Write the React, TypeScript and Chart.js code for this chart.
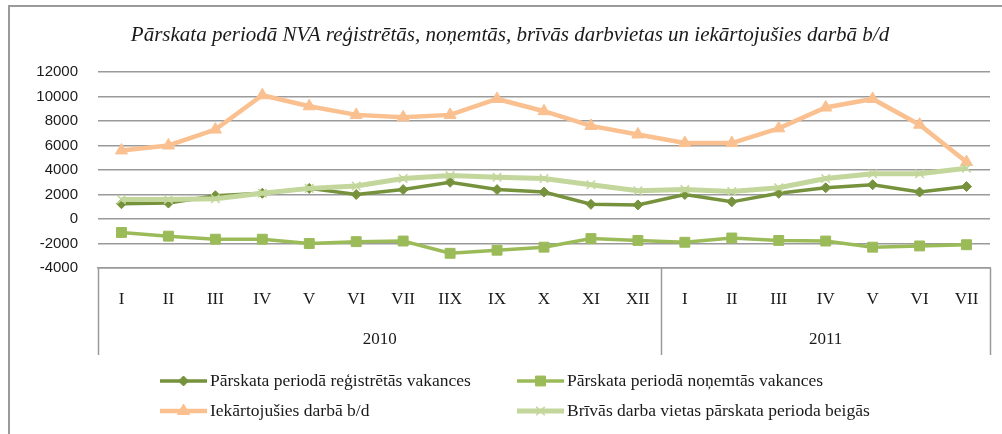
import React, { useEffect, useRef } from 'react';
import { Chart, registerables } from 'chart.js';
import { drawPoint } from 'chart.js/helpers';

Chart.register(...registerables);

const chartTitle =
  'Pārskata periodā NVA reģistrētās, noņemtās, brīvās darbvietas un iekārtojušies darbā b/d';

const months = ['I', 'II', 'III', 'IV', 'V', 'VI', 'VII', 'IIX', 'IX', 'X', 'XI', 'XII', 'I', 'II', 'III', 'IV', 'V', 'VI', 'VII'];
const years = ['2010', '2010', '2010', '2010', '2010', '2010', '2010', '2010', '2010', '2010', '2010', '2010', '2011', '2011', '2011', '2011', '2011', '2011', '2011'];

const seriesNames = [
  'Pārskata periodā reģistrētās vakances',
  'Pārskata periodā noņemtās vakances',
  'Iekārtojušies darbā b/d',
  'Brīvās darba vietas pārskata perioda beigās',
];

const registered = [1250, 1300, 1900, 2100, 2500, 2000, 2400, 3000, 2400, 2200, 1200, 1150, 2000, 1400, 2100, 2550, 2800, 2200, 2650];
const removed = [-1100, -1400, -1650, -1650, -2000, -1850, -1800, -2800, -2550, -2300, -1600, -1750, -1900, -1550, -1750, -1800, -2300, -2200, -2100];
const employed = [5600, 6000, 7300, 10100, 9200, 8500, 8300, 8500, 9800, 8800, 7600, 6900, 6200, 6200, 7400, 9100, 9800, 7700, 4650];
const vacant = [1600, 1600, 1650, 2100, 2500, 2700, 3300, 3550, 3400, 3300, 2800, 2300, 2400, 2250, 2550, 3300, 3700, 3700, 4150];

const yMin = -4000;
const yMax = 12000;
const yStep = 2000;

const W = 1002;
const H = 434;

const decorPlugin = {
  id: 'decor',
  beforeDraw(chart: any) {
    const ctx = chart.ctx;
    ctx.save();
    ctx.strokeStyle = '#9a9a9a';
    ctx.lineWidth = 2;
    ctx.beginPath();
    ctx.moveTo(9, H + 2);
    ctx.lineTo(9, 6);
    ctx.lineTo(W + 2, 6);
    ctx.stroke();
    ctx.font = 'italic 21px "Liberation Serif"';
    ctx.fillStyle = '#1a1a1a';
    ctx.textAlign = 'center';
    ctx.textBaseline = 'middle';
    ctx.fillText(chartTitle, 510, 35);
    ctx.restore();
  },
  afterDraw(chart: any) {
    const ctx = chart.ctx;
    const xs = chart.scales.x;
    const area = chart.chartArea;
    ctx.save();
    const bounds: number[] = [];
    const groups: { label: string; start: number; end: number }[] = [];
    for (let i = 0; i < years.length; i++) {
      if (i === 0 || years[i] !== years[i - 1]) {
        const b = i === 0 ? area.left : (xs.getPixelForValue(i - 1) + xs.getPixelForValue(i)) / 2;
        bounds.push(b);
        if (groups.length) groups[groups.length - 1].end = b;
        groups.push({ label: years[i], start: b, end: area.right });
      }
    }
    bounds.push(area.right);
    ctx.strokeStyle = '#9a9a9a';
    ctx.lineWidth = 1.5;
    for (const b of bounds) {
      const bx = Math.round(b) + 0.5;
      ctx.beginPath();
      ctx.moveTo(bx, area.bottom);
      ctx.lineTo(bx, area.bottom + 87);
      ctx.stroke();
    }
    ctx.font = '17px "Liberation Serif"';
    ctx.fillStyle = '#1a1a1a';
    ctx.textAlign = 'center';
    ctx.textBaseline = 'middle';
    for (const g of groups) {
      ctx.fillText(g.label, (g.start + g.end) / 2, area.bottom + 72);
    }
    const colX = [160, 517];
    const rowY = [381, 411];
    ctx.textAlign = 'left';
    ctx.font = '17.5px "Liberation Serif"';
    chart.data.datasets.forEach((ds: any, i: number) => {
      const lx = colX[i % 2];
      const ly = rowY[Math.floor(i / 2)];
      ctx.strokeStyle = ds.borderColor;
      ctx.lineWidth = ds.borderWidth;
      ctx.beginPath();
      ctx.moveTo(lx, ly);
      ctx.lineTo(lx + 47, ly);
      ctx.stroke();
      ctx.fillStyle = ds.pointBackgroundColor;
      ctx.strokeStyle = ds.pointBorderColor;
      ctx.lineWidth = ds.pointBorderWidth;
      drawPoint(ctx, { pointStyle: ds.pointStyle, radius: ds.pointRadius, rotation: 0, borderWidth: ds.pointBorderWidth }, lx + 23.5, ly);
      ctx.fillStyle = '#1a1a1a';
      ctx.fillText(ds.label, lx + 50, ly);
    });
    ctx.restore();
  },
};

function makeDataset(label: string, data: number[], color: string, width: number, style: string, radius: number, borderW: number, order: number) {
  return {
    label,
    data,
    borderColor: color,
    backgroundColor: color,
    borderWidth: width,
    pointStyle: style,
    pointRadius: radius,
    pointBackgroundColor: color,
    pointBorderColor: color,
    pointBorderWidth: borderW,
    tension: 0,
    order,
  };
}

export default function App() {
  const ref = useRef<HTMLCanvasElement | null>(null);
  useEffect(() => {
    if (!ref.current) return;
    const chart = new Chart(ref.current, {
      type: 'line',
      data: {
        labels: months,
        datasets: [
          makeDataset(seriesNames[0], registered, '#76923C', 3.5, 'rectRot', 5, 1, 3),
          makeDataset(seriesNames[1], removed, '#9BBB59', 3.5, 'rect', 7, 1, 2),
          makeDataset(seriesNames[2], employed, '#FAC090', 4.5, 'triangle', 7, 1, 1),
          makeDataset(seriesNames[3], vacant, '#C3D69B', 5, 'crossRot', 6, 1.5, 0),
        ] as any,
      },
      options: {
        responsive: false,
        animation: false,
        devicePixelRatio: 1,
        layout: { padding: { left: 0, right: 12, top: 72, bottom: 0 } },
        plugins: {
          legend: { display: false },
          title: { display: false },
          tooltip: { enabled: false },
        },
        scales: {
          x: {
            type: 'category',
            offset: true,
            grid: { display: false, drawTicks: false },
            border: { display: true, color: '#9a9a9a', width: 1.5 },
            ticks: {
              autoSkip: false,
              maxRotation: 0,
              padding: 21,
              color: '#1a1a1a',
              font: { family: '"Liberation Serif"', size: 17 },
            },
            afterFit: (s: any) => {
              s.height = H - 268;
            },
          },
          y: {
            min: yMin,
            max: yMax,
            grid: { color: '#9a9a9a', lineWidth: 1.5, drawTicks: false },
            border: { display: false },
            ticks: {
              stepSize: yStep,
              padding: 20,
              color: '#1a1a1a',
              font: { family: '"Liberation Sans"', size: 15 },
              callback: (v: any) => String(v),
            },
            afterFit: (s: any) => {
              s.width = 98;
            },
          },
        },
      } as any,
      plugins: [decorPlugin],
    });
    return () => chart.destroy();
  }, []);
  return (
    <div style={{ position: 'fixed', left: 0, top: 0, width: W, height: H, background: '#fff' }}>
      <canvas ref={ref} width={W} height={H} style={{ display: 'block' }} />
    </div>
  );
}
